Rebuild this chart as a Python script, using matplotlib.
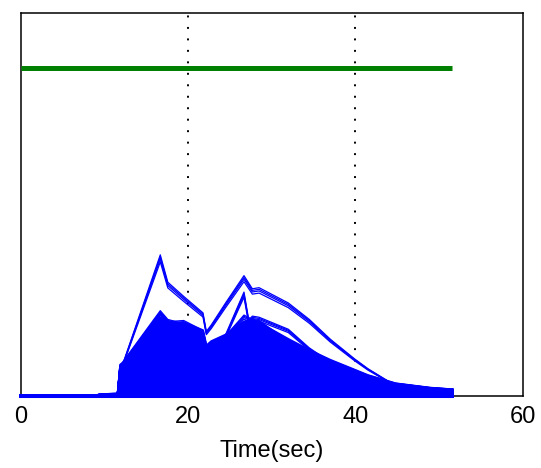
import matplotlib
matplotlib.use("Agg")
import matplotlib.pyplot as plt
import numpy as np

plt.rcParams['font.family'] = ['Liberation Sans', 'DejaVu Sans']

# sample times (sec) shared by all blue traces
t_knots = [0, 8.7, 9.5, 11.6, 11.9, 12.3, 16.7, 17.6, 19.5, 21.8, 22.2, 22.8,
           24.5, 26.7, 27.7, 28.5, 32.0, 34.5, 37.0, 39.9, 41.5, 44.8, 48.9, 51.6]

# outlined traces
top_trace = [0, 0, 0.2, 0.25, 2.9, 3.1, 12.9, 10.4, 9.1, 7.6, 5.9, 6.5,
             8.5, 11.0, 9.8, 9.9, 8.5, 7.0, 5.2, 3.4, 2.5, 0.95, 0.37, 0.18]
group_trace = [0, 0, 0, 0, 2.8, 3.2, 7.8, 7.0, 6.6, 5.6, 3.0, 3.4,
               5.5, 7.4, 7.0, 6.9, 5.0, 3.9, 3.0, 2.1, 1.7, 0.9, 0.45, 0.3]
spike_trace = [0, 0, 0, 0, 2.7, 3.1, 7.6, 6.9, 6.4, 5.5, 2.6, 3.3,
               5.6, 9.5, 5.0, 5.3, 4.5, 3.6, 2.8, 2.0, 1.6, 0.85, 0.4, 0.25]
dome_trace = [0, 0, 0, 0, 2.6, 3.0, 7.2, 6.8, 6.9, 6.0, 3.2, 3.6,
              5.0, 6.5, 7.3, 7.2, 6.1, 4.4, 3.1, 2.0, 1.6, 0.9, 0.45, 0.3]
bulk_trace = [0, 0, 0, 0, 2.6, 3.0, 7.1, 6.6, 6.7, 6.0, 4.6, 5.0,
              5.6, 6.8, 7.0, 6.7, 5.2, 4.2, 3.3, 2.4, 1.9, 1.15, 0.75, 0.6]

bundle_gains = [0.95, 0.97, 0.985, 1.0]
bulk_gains = [0.02, 0.035, 0.05, 0.065, 0.08, 0.095, 0.11, 0.125, 0.14, 0.155,
              0.17, 0.185, 0.20, 0.215, 0.23, 0.245, 0.26, 0.275, 0.29, 0.305,
              0.32, 0.335, 0.35, 0.365, 0.38, 0.395, 0.41, 0.425, 0.44, 0.455,
              0.47, 0.485, 0.50, 0.515, 0.53, 0.545, 0.56, 0.575, 0.59, 0.605,
              0.62, 0.635, 0.65, 0.665, 0.68, 0.695, 0.71, 0.725, 0.74, 0.755,
              0.77, 0.785, 0.80, 0.815, 0.83, 0.845, 0.86, 0.875, 0.89, 0.905,
              0.92, 0.935, 0.95, 0.965, 0.98, 1.0]

ref_time = [0, 51.6]
ref_level = [30, 30]

fig = plt.figure(figsize=(5.41, 4.68), dpi=100)
ax = fig.add_axes([0.0379, 0.1538, 0.9283, 0.8184])

t = np.array(t_knots)
for g in bulk_gains:
    ax.plot(t, g * np.array(bulk_trace), color='#0000ff', lw=1.6, zorder=3, clip_on=False)
for trace in (group_trace, spike_trace, dome_trace, top_trace):
    for g in bundle_gains:
        ax.plot(t, g * np.array(trace), color='#0000ff', lw=0.9, zorder=3, clip_on=False)
# zero level of every run, drawn over the frame
ax.plot([0, t_knots[-1]], [0, 0], color='#0000ff', lw=2.2, zorder=5, clip_on=False)

ax.plot(ref_time, ref_level, color='#008000', lw=3.6, zorder=4, solid_capstyle='butt')

for x in (20, 40):
    ax.axvline(x, color='black', lw=1.4, linestyle=(0, (1, 4.9)), zorder=1)

ax.set_xlim(0, 60)
ax.set_ylim(0, 35)
ax.set_xticks([0, 20, 40, 60])
ax.set_yticks([])
ax.tick_params(axis='x', length=0, pad=7, labelsize=17)
ax.set_xlabel('Time(sec)', fontsize=17, labelpad=9)
for s in ax.spines.values():
    s.set_linewidth(1.1)
    s.set_color('black')

fig.savefig('out.png', dpi=100)
